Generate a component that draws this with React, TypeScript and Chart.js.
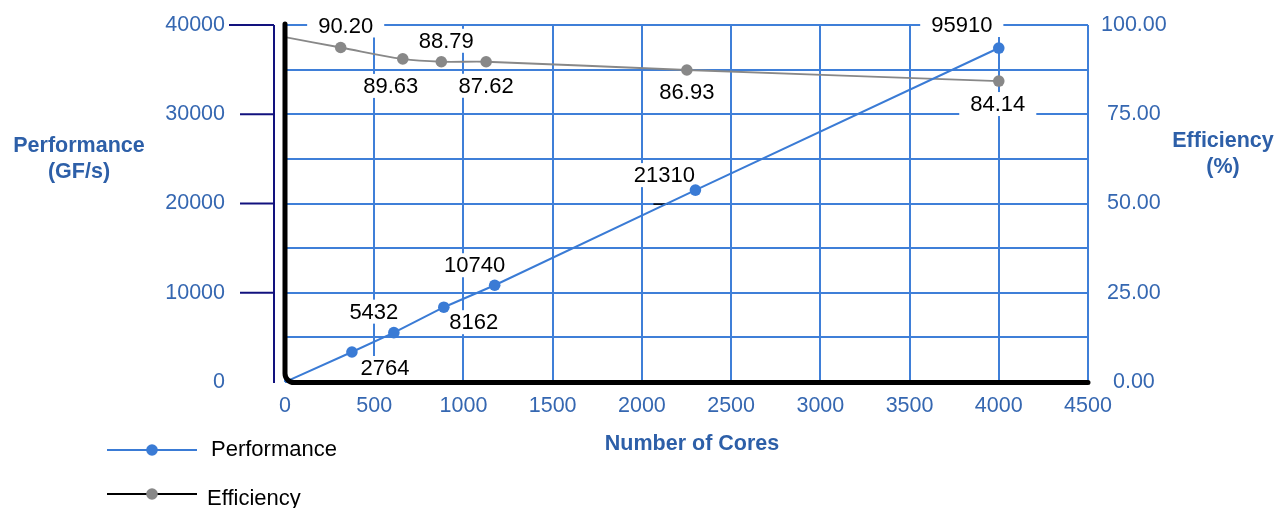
import React, { useEffect, useRef } from 'react';
import { Chart, registerables } from 'chart.js';

Chart.register(...registerables);

// ---- data ----
const perfCores = [0, 375, 610, 890, 1175, 2300, 4000];
const perfValues = [0, 3360, 5530, 8380, 10840, 21500, 37420];
const perfLabels = ['', '2764', '5432', '8162', '10740', '21310', '95910'];

const effCores = [0, 312, 660, 876, 1127, 2252, 4000];
const effValues = [96.6, 93.7, 90.5, 89.7, 89.7, 87.4, 84.3];
const effLabels = ['', '90.20', '89.63', '88.79', '87.62', '86.93', '84.14'];

const xMin = 0, xMax = 4500, xStep = 500;
const yMin = 0, yMax = 40000, yGridStep = 5000, yLabelStep = 10000;
const y1Min = 0, y1Max = 100, y1Step = 25;

const seriesNames = ['Performance', 'Efficiency'];
const axisTitles = { left: ['Performance', '(GF/s)'], right: ['Efficiency', '(%)'], x: 'Number of Cores' };

// ---- styles ----
const FONT = '"Liberation Sans", Arial, Helvetica, sans-serif';
const BLUE = '#3a7bd5';
const GRID = '#3f7fd8';
const GRAY = '#888888';
const TICK = '#3567b1';
const TITLE = '#2d5fa8';
const NAVY = '#12127e';
const CLEAR = 'rgba(0,0,0,0)';

// label offsets relative to point (pixels)
const perfOffsets: [number, number][] = [[0, 0], [33, 16], [-20, -21], [30, 15], [-20, -20], [-31, -15], [-37, -23]];
const effOffsets: [number, number][] = [[0, 0], [5, -22], [-12, 27], [5, -21], [0, 24], [0, 22], [-1, 23]];

const decor = {
  id: 'decor',
  beforeDatasetsDraw(chart: any) {
    const ctx = chart.ctx as CanvasRenderingContext2D;
    ctx.save();
    ctx.font = `22px ${FONT}`;
    ctx.textAlign = 'center';
    ctx.textBaseline = 'middle';
    const sets: [number, string[], [number, number][]][] = [
      [0, perfLabels, perfOffsets],
      [1, effLabels, effOffsets],
    ];
    sets.forEach(([di, labels, offs]) => {
      const meta = chart.getDatasetMeta(di);
      meta.data.forEach((pt: any, i: number) => {
        const t = labels[i];
        if (!t) return;
        const x = pt.x + offs[i][0];
        const y = pt.y + offs[i][1];
        const w = ctx.measureText(t).width;
        ctx.fillStyle = '#ffffff';
        ctx.fillRect(x - w / 2 - 11, y - 12, w + 22, 24);
        ctx.fillStyle = '#000000';
        ctx.fillText(t, x, y + 1);
      });
    });
    // small leader dash under the 21310 label
    const p5 = chart.getDatasetMeta(0).data[5];
    if (p5) {
      ctx.strokeStyle = '#000';
      ctx.lineWidth = 1.5;
      ctx.beginPath();
      ctx.moveTo(p5.x - 42, p5.y + 14);
      ctx.lineTo(p5.x - 28, p5.y + 14);
      ctx.stroke();
    }
    ctx.restore();
  },
  afterDraw(chart: any) {
    const ctx = chart.ctx as CanvasRenderingContext2D;
    const ca = chart.chartArea;
    const ys = chart.scales.y;
    ctx.save();

    // navy secondary left axis line with ticks
    const nx = ca.left - 11;
    ctx.strokeStyle = NAVY;
    ctx.lineWidth = 2;
    ctx.beginPath();
    ctx.moveTo(nx, ca.top);
    ctx.lineTo(nx, ca.bottom + 1);
    ctx.stroke();
    for (let v = yLabelStep; v <= yMax; v += yLabelStep) {
      const py = ys.getPixelForValue(v);
      ctx.beginPath();
      ctx.moveTo(v === yMax ? nx - 45 : nx - 34, py);
      ctx.lineTo(nx, py);
      ctx.stroke();
    }

    // thick black axes with rounded corner
    const r = 9;
    ctx.strokeStyle = '#000';
    ctx.lineWidth = 5;
    ctx.lineCap = 'round';
    ctx.lineJoin = 'round';
    ctx.beginPath();
    ctx.moveTo(ca.left, ca.top - 1);
    ctx.lineTo(ca.left, ca.bottom + 0.5 - r);
    ctx.arcTo(ca.left, ca.bottom + 0.5, ca.left + r, ca.bottom + 0.5, r);
    ctx.lineTo(ca.right, ca.bottom + 0.5);
    ctx.stroke();

    // axis titles
    ctx.fillStyle = TITLE;
    ctx.font = `bold 21.5px ${FONT}`;
    ctx.textAlign = 'center';
    ctx.textBaseline = 'middle';
    ctx.fillText(axisTitles.left[0], 79, 146);
    ctx.fillText(axisTitles.left[1], 79, 172);
    ctx.fillText(axisTitles.right[0], 1223, 141);
    ctx.fillText(axisTitles.right[1], 1223, 167);
    ctx.fillText(axisTitles.x, 692, 444);

    // legend
    const legend = [
      { y: 450, line: BLUE, marker: BLUE, tx: 211 },
      { y: 494, line: '#000000', marker: GRAY, tx: 207 },
    ];
    legend.forEach((l, i) => {
      ctx.strokeStyle = l.line;
      ctx.lineWidth = 2;
      ctx.lineCap = 'butt';
      ctx.beginPath();
      ctx.moveTo(107, l.y);
      ctx.lineTo(197, l.y);
      ctx.stroke();
      ctx.fillStyle = l.marker;
      ctx.beginPath();
      ctx.arc(152, l.y, 5.8, 0, Math.PI * 2);
      ctx.fill();
      ctx.fillStyle = '#000';
      ctx.font = `22px ${FONT}`;
      ctx.textAlign = 'left';
      ctx.textBaseline = 'middle';
      ctx.fillText(seriesNames[i], l.tx, l.y + (i === 0 ? 0 : 5));
    });

    ctx.restore();
  },
};

export default function App() {
  const ref = useRef<HTMLCanvasElement | null>(null);
  useEffect(() => {
    if (!ref.current) return;
    Chart.defaults.font.family = FONT;
    const chart = new Chart(ref.current, {
      type: 'line',
      data: {
        datasets: [
          {
            label: seriesNames[0],
            data: perfCores.map((c, i) => ({ x: c, y: perfValues[i] })),
            borderColor: BLUE,
            backgroundColor: BLUE,
            borderWidth: 2,
            pointRadius: perfCores.map((_, i) => (i === 0 ? 0 : 5.8)),
            pointBorderWidth: 0,
            tension: 0,
            yAxisID: 'y',
          },
          {
            label: seriesNames[1],
            data: effCores.map((c, i) => ({ x: c, y: effValues[i] })),
            borderColor: GRAY,
            backgroundColor: GRAY,
            borderWidth: 1.8,
            pointRadius: effCores.map((_, i) => (i === 0 ? 0 : 5.8)),
            pointBorderWidth: 0,
            tension: 0.35,
            yAxisID: 'y1',
          },
        ],
      },
      options: {
        animation: false,
        responsive: true,
        maintainAspectRatio: false,
        layout: { padding: { top: 25, left: 0, right: 0, bottom: 0 } },
        plugins: { legend: { display: false }, tooltip: { enabled: false } },
        scales: {
          x: {
            type: 'linear',
            min: xMin,
            max: xMax,
            ticks: {
              stepSize: xStep, color: TICK, font: { size: 21.5 }, padding: 0, autoSkip: false, maxRotation: 0,
              callback: (v: any) => String(v),
            },
            grid: { color: GRID, lineWidth: 2, drawTicks: true, tickLength: 11, tickColor: CLEAR },
            border: { display: false },
            afterFit: (s: any) => { s.height = 126; },
          },
          y: {
            type: 'linear',
            position: 'left',
            min: yMin,
            max: yMax,
            ticks: {
              stepSize: yGridStep,
              color: TICK,
              font: { size: 21.5 },
              padding: 0,
              callback: (v: any) => (Number(v) % yLabelStep === 0 ? String(v) : ''),
            },
            grid: { color: GRID, lineWidth: 2, drawTicks: true, tickLength: 60, tickColor: CLEAR },
            border: { display: false },
            afterFit: (s: any) => { s.width = 285; },
          },
          y1: {
            type: 'linear',
            position: 'right',
            min: y1Min,
            max: y1Max,
            ticks: {
              stepSize: y1Step,
              color: TICK,
              font: { size: 21.5 },
              padding: 0,
              crossAlign: 'center',
              callback: (v: any) => Number(v).toFixed(2),
            },
            grid: { display: true, drawOnChartArea: false, drawTicks: true, tickLength: 13, tickColor: CLEAR },
            border: { display: false },
            afterFit: (s: any) => { s.width = 190; },
          },
        },
      },
      plugins: [decor],
    } as any);
    return () => chart.destroy();
  }, []);
  return (
    <div style={{ position: 'absolute', left: 0, top: 0, width: 1278, height: 508 }}>
      <canvas ref={ref} />
    </div>
  );
}
